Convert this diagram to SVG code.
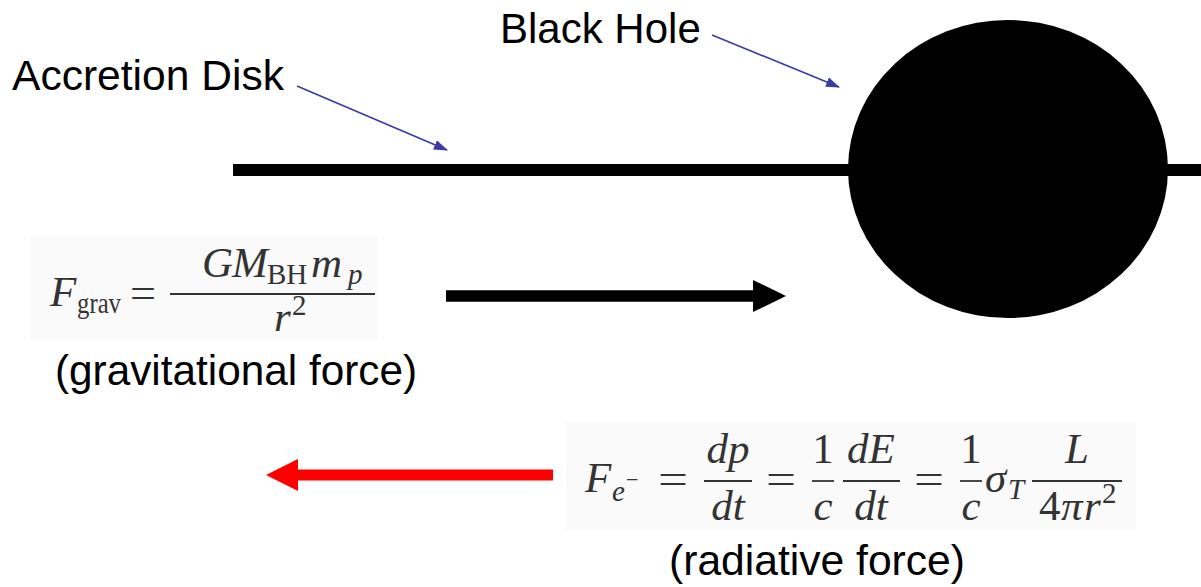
<svg xmlns="http://www.w3.org/2000/svg" width="1201" height="587" viewBox="0 0 1201 587">
<style>
.lbl{font-family:"Liberation Sans",Arial,sans-serif;font-size:42px;fill:#000}
.m{font-family:"Liberation Serif","DejaVu Serif",serif;font-style:italic;font-size:43px;fill:#333}
.r{font-family:"Liberation Serif","DejaVu Serif",serif;font-size:43px;fill:#333}
.s{font-size:29px}
.ss{font-size:22px}
.bar{stroke:#333;stroke-width:1.8}
.ptr{stroke:#3a3aa8;stroke-width:1.6;fill:none}
.bg{fill:#fafafa}
</style>
<defs>
<marker id="blueHead" markerUnits="userSpaceOnUse" markerWidth="14" markerHeight="10" refX="13" refY="5" orient="auto">
<path d="M0,0 L14,5 L0,10 z" fill="#3a3aa8"/>
</marker>
</defs>
<rect width="1201" height="587" fill="#fff"/>

<g id="disk">
<line x1="233" y1="170" x2="1201" y2="170" stroke="#000" stroke-width="12"/>
</g>
<g id="black-hole">
<ellipse cx="1008" cy="169" rx="160" ry="149" fill="#000"/>
</g>

<g id="label-accretion"><text class="lbl" x="12" y="90" textLength="272" lengthAdjust="spacingAndGlyphs">Accretion Disk</text></g>
<g id="label-blackhole"><text class="lbl" x="500" y="43">Black Hole</text></g>

<g id="formula-grav">
<rect class="bg" x="30" y="236" width="348" height="104"/>
<text class="m" x="50" y="306">F</text>
<text class="r s" x="77" y="313" textLength="44" lengthAdjust="spacingAndGlyphs">grav</text>
<text class="r" x="130" y="307" textLength="26" lengthAdjust="spacingAndGlyphs">=</text>
<line class="bar" x1="170" y1="294" x2="375" y2="294"/>
<text class="m" x="202" y="277">G</text>
<text class="m" x="232" y="277">M</text>
<text class="r s" x="267" y="284">BH</text>
<text class="m" x="311" y="277">m</text>
<text class="m s" x="348" y="284">p</text>
<text class="m" x="274" y="331">r</text>
<text class="r s" x="292" y="315">2</text>
</g>
<g id="label-grav"><text class="lbl" x="55" y="385" textLength="362" lengthAdjust="spacingAndGlyphs">(gravitational force)</text></g>

<g id="formula-rad">
<rect class="bg" x="566" y="422" width="570" height="108"/>
<text class="m" x="585" y="492">F</text>
<text class="m s" x="612" y="501">e</text>
<text class="r ss" x="626" y="487">−</text>
<text class="r" x="658" y="493" textLength="30" lengthAdjust="spacingAndGlyphs">=</text>
<line class="bar" x1="704" y1="481" x2="752" y2="481"/>
<text class="m" x="728" y="463" text-anchor="middle">dp</text>
<text class="m" x="728" y="520" text-anchor="middle">dt</text>
<text class="r" x="766" y="493" textLength="30" lengthAdjust="spacingAndGlyphs">=</text>
<line class="bar" x1="812" y1="481" x2="834" y2="481"/>
<text class="r" x="823" y="463" text-anchor="middle">1</text>
<text class="m" x="823" y="520" text-anchor="middle">c</text>
<line class="bar" x1="843" y1="481" x2="900" y2="481"/>
<text class="m" x="871" y="463" text-anchor="middle">dE</text>
<text class="m" x="871" y="520" text-anchor="middle">dt</text>
<text class="r" x="914" y="493" textLength="30" lengthAdjust="spacingAndGlyphs">=</text>
<line class="bar" x1="960" y1="481" x2="982" y2="481"/>
<text class="r" x="971" y="463" text-anchor="middle">1</text>
<text class="m" x="971" y="520" text-anchor="middle">c</text>
<text class="m" x="985" y="492">σ</text>
<text class="m s" x="1008" y="499">T</text>
<line class="bar" x1="1032" y1="481" x2="1122" y2="481"/>
<text class="m" x="1077" y="463" text-anchor="middle">L</text>
<text class="r" x="1039" y="520">4</text>
<text class="m" x="1061" y="520">π</text>
<text class="m" x="1084" y="520">r</text>
<text class="r s" x="1102" y="503">2</text>
</g>
<g id="label-rad"><text class="lbl" x="669" y="575" textLength="296" lengthAdjust="spacingAndGlyphs">(radiative force)</text></g>

<g id="connectors">
<line class="ptr" x1="297" y1="86" x2="447" y2="150" marker-end="url(#blueHead)"/>
<line class="ptr" x1="712" y1="35" x2="839" y2="87" marker-end="url(#blueHead)"/>
<line x1="446" y1="296" x2="756" y2="296" stroke="#000" stroke-width="11.5"/>
<polygon points="753,280 786,296 753,312" fill="#000"/>
<line x1="296" y1="475" x2="553" y2="475" stroke="#f00" stroke-width="11"/>
<polygon points="298,459 266,475 298,491" fill="#f00"/>
</g>
</svg>
